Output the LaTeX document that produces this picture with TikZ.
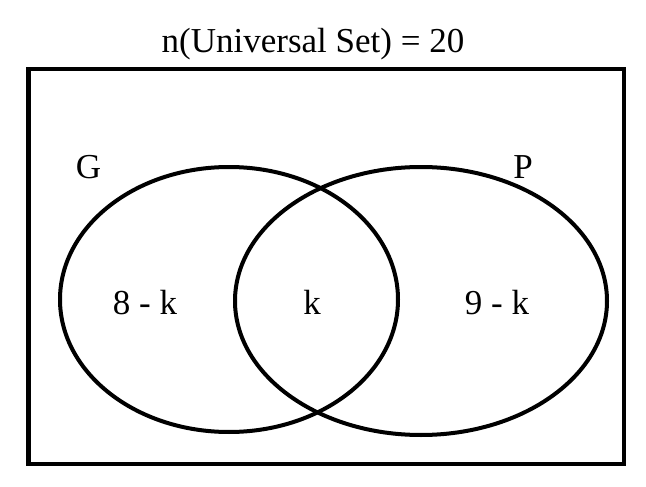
\documentclass[tikz,border=0pt]{standalone}
\usepackage{fontspec}
\setmainfont{Liberation Serif}
\usetikzlibrary{shapes.geometric}
\begin{document}
\begin{tikzpicture}[x=1pt,y=-1pt,
  frame/.style={draw=black,line width=4.5pt},
  setshape/.style={draw=black,line width=4pt,ellipse,inner sep=0pt},
  lbl/.style={anchor=base,inner sep=0pt,font=\fontsize{35}{40}\selectfont}]
\useasboundingbox (0,0) rectangle (646,487);
\node[frame,rectangle,minimum width=595.5pt,minimum height=395pt,inner sep=0pt] (U) at (326.25,266.5) {};
\node[setshape,minimum width=338pt,minimum height=265pt] (Gset) at (229,299.5) {};
\node[setshape,minimum width=372pt,minimum height=268pt] (Pset) at (421,301) {};
\node[lbl] (title) at (313,53) {n(Universal Set) = 20};
\node[lbl] (G) at (88.5,178) {G};
\node[lbl] (P) at (523,178) {P};
\node[lbl] (onlyG) at (145,314) {8 - k};
\node[lbl] (both) at (312,314) {k};
\node[lbl] (onlyP) at (497,314) {9 - k};
\end{tikzpicture}
\end{document}
